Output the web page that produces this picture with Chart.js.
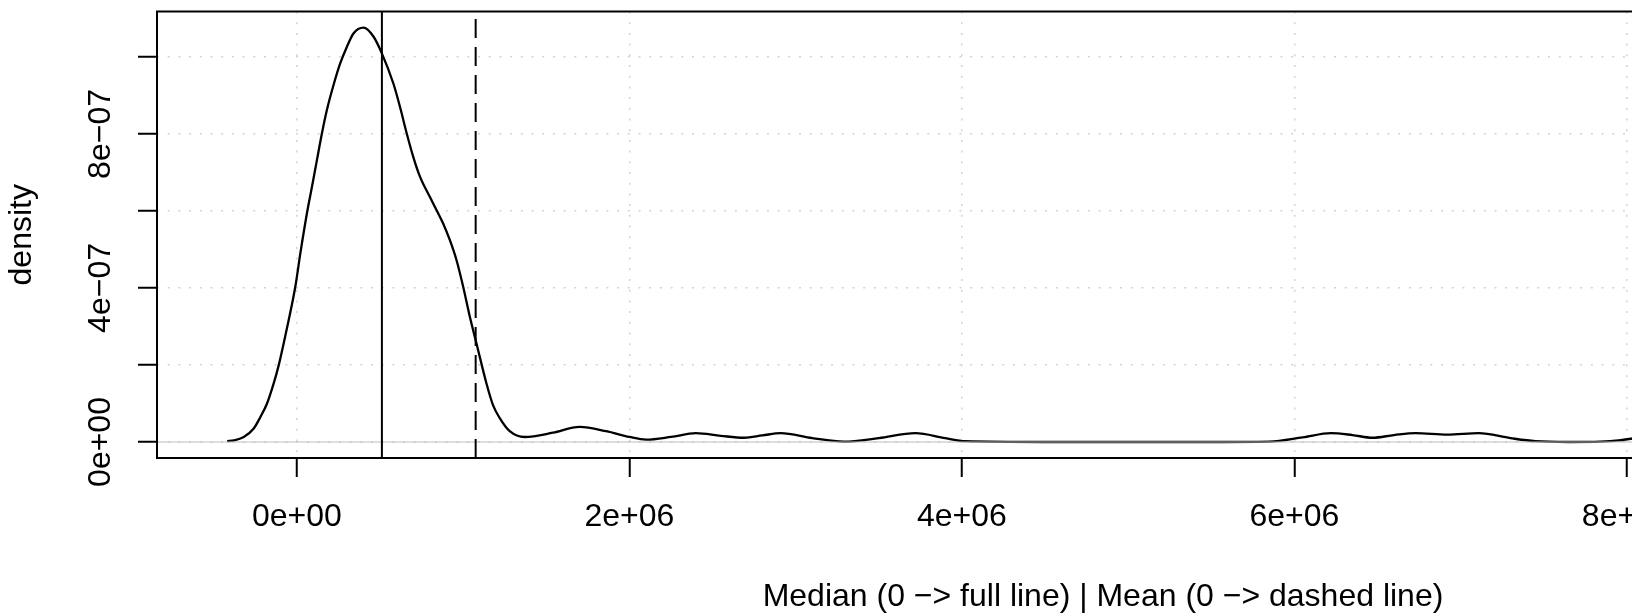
<!DOCTYPE html>
<html>
<head>
<meta charset="utf-8">
<script src="https://cdn.jsdelivr.net/npm/chart.js@4.4.0/dist/chart.umd.min.js"></script>
<style>
  html, body { margin: 0; padding: 0; background: #fff; overflow: hidden; width: 1632px; height: 616px; }
  #wrap { width: 2060px; height: 616px; }
</style>
</head>
<body>
<div id="wrap"><canvas id="chart"></canvas></div>
<script>
// density curve: x in millions, density in 1e-6
const xMillions = [-0.42, -0.38, -0.32, -0.26, -0.22, -0.18, -0.14, -0.11, -0.08, -0.05, -0.01, 0.02, 0.06, 0.09,
  0.12, 0.15, 0.18, 0.22, 0.26, 0.30, 0.34, 0.40, 0.46, 0.51, 0.58, 0.62, 0.66, 0.70, 0.74, 0.80, 0.84, 0.88,
  0.92, 0.96, 1.00, 1.04, 1.08, 1.14, 1.18, 1.22, 1.28, 1.37, 1.54, 1.70, 1.86, 2.00, 2.10, 2.25, 2.40,
  2.55, 2.69, 2.80, 2.91, 3.10, 3.29, 3.50, 3.72, 3.90, 4.02, 4.50, 5.00, 5.50, 5.85, 6.05, 6.22, 6.35, 6.47,
  6.60, 6.73, 6.92, 7.11, 7.30, 7.45, 7.65, 7.84, 7.95, 8.05, 8.20];
const densityMicro = [0.002, 0.004, 0.013, 0.035, 0.065, 0.100, 0.152, 0.199, 0.256, 0.316, 0.403, 0.489, 0.594, 0.662,
  0.732, 0.801, 0.862, 0.927, 0.983, 1.026, 1.061, 1.076, 1.053, 1.010, 0.931, 0.870, 0.802, 0.740, 0.689, 0.636, 0.602, 0.567,
  0.524, 0.472, 0.403, 0.325, 0.256, 0.152, 0.095, 0.062, 0.028, 0.013, 0.024, 0.039, 0.028, 0.013, 0.006, 0.013, 0.023,
  0.016, 0.011, 0.017, 0.023, 0.010, 0.001, 0.010, 0.023, 0.010, 0.002, 0.000, 0.000, 0.000, 0.001, 0.012, 0.023, 0.018, 0.011,
  0.018, 0.023, 0.019, 0.023, 0.010, 0.002, 0.000, 0.001, 0.004, 0.010, 0.020];

const medianValue = 0.511e6;
const meanValue = 1.075e6;

const xTicks = [0, 2e6, 4e6, 6e6, 8e6, 1e7];
const yTicks = [0, 2e-7, 4e-7, 6e-7, 8e-7, 1e-6];
const yTickLabels = ['0e+00', '', '4e\u221207', '', '8e\u221207', ''];
const xLimits = [-0.842e6, 10.54e6];
const yLimits = [-0.0416e-6, 1.118e-6];

const xTitle = 'Median (0 \u2212> full line) | Mean (0 \u2212> dashed line)';
const yTitle = 'density';

const FONT = '"Liberation Sans", Arial, Helvetica, sans-serif';

const sci = (v) => {
  if (v === 0) return '0e+00';
  let [m, e] = v.toExponential(0).split('e');
  const sign = e[0] === '-' ? '\u2212' : '+';
  e = e.replace(/[+-]/, '');
  return m + 'e' + sign + e.padStart(2, '0');
};

const curve = xMillions.map((x, i) => ({ x: x * 1e6, y: densityMicro[i] * 1e-6 }));

// box around the plot + rotated y tick labels (R style)
const rBox = {
  id: 'rBox',
  afterDraw(chart) {
    const { ctx, chartArea: a } = chart;
    const ys = chart.scales.y;
    ctx.save();
    ctx.strokeStyle = '#000';
    ctx.lineWidth = 2;
    ctx.strokeRect(a.left, a.top, a.right - a.left, a.bottom - a.top);
    ctx.fillStyle = '#000';
    ctx.font = '32px ' + FONT;
    ctx.textAlign = 'center';
    ctx.textBaseline = 'alphabetic';
    yTicks.forEach((v, i) => {
      if (!yTickLabels[i]) return;
      const py = ys.getPixelForValue(v);
      ctx.save();
      ctx.translate(110, py);
      ctx.rotate(-Math.PI / 2);
      ctx.fillText(yTickLabels[i], 0, 0);
      ctx.restore();
    });
    ctx.restore();
  }
};

Chart.defaults.font.family = FONT;
Chart.defaults.font.size = 32;
Chart.defaults.color = '#000';

new Chart(document.getElementById('chart'), {
  type: 'scatter',
  data: {
    datasets: [
      {
        data: [{ x: medianValue, y: yLimits[0] }, { x: medianValue, y: yLimits[1] }],
        showLine: true, borderColor: '#000', borderWidth: 2, pointRadius: 0, order: 0
      },
      {
        data: [{ x: meanValue, y: yLimits[0] }, { x: meanValue, y: yLimits[1] }],
        showLine: true, borderColor: '#000', borderWidth: 2, borderDash: [19, 9], pointRadius: 0, order: 0
      },
      {
        data: [{ x: xLimits[0], y: 0 }, { x: xLimits[1], y: 0 }],
        showLine: true, borderColor: '#bebebe', borderWidth: 1.2, pointRadius: 0, order: 1
      },
      {
        data: curve,
        showLine: true, borderColor: '#000', borderWidth: 2.3, pointRadius: 0,
        cubicInterpolationMode: 'monotone', order: 2
      }
    ]
  },
  options: {
    responsive: true,
    maintainAspectRatio: false,
    animation: false,
    devicePixelRatio: 1,
    layout: { padding: { top: 11.5, right: 11, bottom: 0, left: 0 } },
    plugins: { legend: { display: false }, tooltip: { enabled: false } },
    scales: {
      x: {
        type: 'linear',
        min: xLimits[0],
        max: xLimits[1],
        afterBuildTicks: (s) => { s.ticks = xTicks.map(v => ({ value: v })); },
        afterFit: (s) => { s.height = 158; },
        ticks: { callback: (v) => sci(v), padding: 21, maxRotation: 0, autoSkip: false, color: '#000' },
        grid: {
          color: '#d3d3d3', lineWidth: 1.5, drawTicks: true, tickLength: 19,
          tickColor: '#000', tickWidth: 2, tickBorderDash: []
        },
        border: { display: false, dash: [2, 8.7] },
        title: { display: true, text: xTitle, font: { size: 32 }, padding: { top: 0, bottom: 0 }, color: '#000' }
      },
      y: {
        type: 'linear',
        min: yLimits[0],
        max: yLimits[1],
        afterBuildTicks: (s) => { s.ticks = yTicks.map(v => ({ value: v })); },
        afterFit: (s) => { s.width = 157; },
        ticks: { display: false },
        grid: {
          color: '#d3d3d3', lineWidth: 1.5, drawTicks: true, tickLength: 19,
          tickColor: '#000', tickWidth: 2, tickBorderDash: []
        },
        border: { display: false, dash: [2, 8.7] },
        title: { display: true, text: yTitle, font: { size: 32 }, padding: { top: 3.3, bottom: 0 }, color: '#000' }
      }
    }
  },
  plugins: [rBox]
});
</script>
</body>
</html>
